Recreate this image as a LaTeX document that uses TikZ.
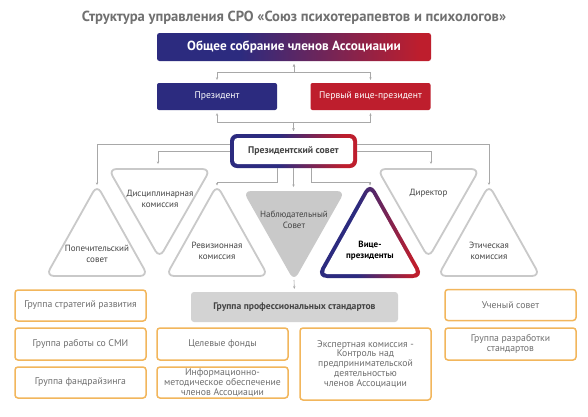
\documentclass[tikz,border=0pt]{standalone}
\usepackage{fontspec}
\setmainfont{PT Sans}
\usetikzlibrary{arrows.meta,calc}
\definecolor{bluec}{HTML}{2C2B7F}
\definecolor{redc}{HTML}{BE1E2D}
\definecolor{linec}{HTML}{A8A8A8}
\definecolor{trigray}{HTML}{C9C9C9}
\definecolor{orangec}{HTML}{F2B65C}
\definecolor{txtgray}{HTML}{6E6E6E}
\definecolor{darktxt}{HTML}{444444}
\definecolor{titlec}{HTML}{707070}
\definecolor{gpsfill}{HTML}{D3D3D3}
\pgfdeclarehorizontalshading{genshade}{100bp}{color(0bp)=(bluec); color(40bp)=(bluec); color(73bp)=(redc); color(100bp)=(redc)}
\pgfdeclarehorizontalshading{pcshade}{100bp}{color(0bp)=(bluec); color(44bp)=(bluec); color(70bp)=(redc); color(100bp)=(redc)}
\begin{document}
\begin{tikzpicture}[x=1pt,y=-1pt,
  conn/.style={draw=linec, line width=0.6pt},
  ar/.style={-{Stealth[length=2.6pt,width=2.4pt]}, shorten >=0pt},
  bar/.style={{Stealth[length=2.6pt,width=2.4pt]}-{Stealth[length=2.6pt,width=2.4pt]}, shorten >=3pt, shorten <=3pt},
  titlestyle/.style={text=titlec, font=\bfseries\fontsize{14.6}{16}\selectfont, inner sep=0},
  genbox/.style={shading=genshade, rounded corners=2.5pt, minimum width=274pt, minimum height=28pt, text=white, font=\bfseries\fontsize{13.2}{15}\selectfont, inner sep=0},
  presbox/.style={rounded corners=2pt, minimum width=120pt, minimum height=27pt, text=white, font=\fontsize{9.6}{11}\selectfont, inner sep=0},
  pcouter/.style={shading=pcshade, rounded corners=7pt, minimum width=127pt, minimum height=34pt, inner sep=0},
  pcinner/.style={fill=white, rounded corners=3.5pt, minimum width=119pt, minimum height=26pt, inner sep=0, text=darktxt, font=\bfseries\fontsize{9.7}{11}\selectfont},
  tri/.style={draw=trigray, line width=1.8pt, rounded corners=8pt, line join=round},
  tritxt/.style={text=darktxt, font=\fontsize{9}{11}\selectfont, align=center, inner sep=0},
  obox/.style={draw=orangec, line width=1.5pt, rounded corners=3pt, fill=white, minimum width=131pt, text=txtgray, font=\fontsize{9.7}{9.9}\selectfont, align=center, inner sep=0},
  gpsbox/.style={fill=gpsfill, rounded corners=3pt, minimum width=207pt, minimum height=30pt, text=darktxt, font=\bfseries\fontsize{9.6}{11}\selectfont, inner sep=0}
]
\useasboundingbox (0,0) rectangle (588,416);
\fill[white] (0,0) rectangle (588,416);

% title and top blocks
\node[titlestyle] (title) at (294,18) {Структура управления СРО «Союз психотерапевтов и психологов»};
\node[genbox] (gen) at (294,47) {Общее собрание членов Ассоциации};
\node[presbox, fill=bluec] (pres) at (217,96.5) {Президент};
\node[presbox, fill=redc] (fvp) at (370.5,96.5) {Первый вице-президент};

% presidential council
\node[pcouter] (pc) at (293.5,151) {};
\node[pcinner] (pctxt) at (pc) {Президентский совет};

\draw[conn,bar] (gen.south) -- ++(0,11) -| (pres.north);
\draw[conn,bar] (gen.south) -- ++(0,11) -| (fvp.north);
\draw[conn,bar] (pres.south) -- ++(0,12) -| (pc.north);
\draw[conn,bar] (fvp.south) -- ++(0,12) -| (pc.north);

% triangles
\draw[tri] (97,185) -- (97+51,276) -- (97-51,276) -- cycle;
\draw[tri] (159.5-51,169) -- (159.5+51,169) -- (159.5,258) -- cycle;
\draw[tri] (217,185) -- (217+51,276) -- (217-51,276) -- cycle;
\fill[trigray, rounded corners=8pt] (294-51,191) -- (294+51,191) -- (294,281) -- cycle;
\draw[tri] (428.5-51,169) -- (428.5+51,169) -- (428.5,258) -- cycle;
\draw[tri] (489,185) -- (489+51,276) -- (489-51,276) -- cycle;
% vice presidents (gradient border)
\shade[shading=pcshade, rounded corners=11.5pt] (370,181) -- (424.4,278) -- (315.6,278) -- cycle;
\fill[white, rounded corners=4.5pt] (370,189) -- (417.6,274) -- (322.4,274) -- cycle;

\coordinate (t1) at (97,185);
\coordinate (t2) at (158,164);
\coordinate (t3) at (217,185.5);
\coordinate (t4) at (293.5,187);
\coordinate (t5) at (370,185.5);
\coordinate (t6) at (431,164);
\coordinate (t7) at (489,185);
\coordinate (t4b) at (294,280);

\node[tritxt] (n1) at (97,254) {Попечительский\\совет};
\node[tritxt] (n2) at (160,198.5) {Дисциплинарная\\комиссия};
\node[tritxt] (n3) at (217,250.5) {Ревизионная\\комиссия};
\node[tritxt] (n4) at (294,219.5) {Наблюдательный\\Совет};
\node[tritxt, font=\bfseries\fontsize{9}{11}\selectfont, text=black] (n5) at (370,250.5) {Вице-\\президенты};
\node[tritxt] (n6) at (428.5,193.5) {Директор};
\node[tritxt] (n7) at (489,250.5) {Этическая\\комиссия};

% connectors from the council
\draw[conn,ar] ($(pc.west)+(0,-7)$) -| (t1);
\draw[conn,ar] (pc.west) -| (t2);
\draw[conn,ar] ($(pc.south)+(-16.5,0)$) -- ++(0,14) -| (t3);
\draw[conn,ar] (pc.south) -- (t4);
\draw[conn,ar] ($(pc.south)+(17.5,0)$) -- ++(0,14) -| (t5);
\draw[conn,ar] (pc.east) -| (t6);
\draw[conn,ar] ($(pc.east)+(0,-7)$) -| (t7);

% bottom blocks
\node[gpsbox] (gps) at (294.5,307) {Группа профессиональных стандартов};
\draw[conn,ar, shorten >=3pt] (t4b) -- (gps.north);

\node[obox, minimum height=31pt] (b1) at (80.5,305.5) {Группа стратегий развития};
\node[obox, minimum height=32pt] (b2) at (80.5,344) {Группа работы со СМИ};
\node[obox, minimum height=31pt] (b3) at (80.5,382.5) {Группа фандрайзинга};
\node[obox, minimum height=32pt] (b4) at (222.5,344) {Целевые фонды};
\node[obox, minimum height=31pt] (b5) at (222.5,382.5) {Информационно-\\методическое обеспечение\\членов Ассоциации};
\node[obox, minimum height=72pt] (b6) at (365.5,364) {Экспертная комиссия -\\Контроль над\\предпринимательской\\деятельностью\\членов Ассоциации};
\node[obox, minimum height=31pt] (b7) at (510.5,305) {Ученый совет};
\node[obox, minimum height=32pt] (b8) at (510.5,344) {Группа разработки\\стандартов};
\end{tikzpicture}
\end{document}
